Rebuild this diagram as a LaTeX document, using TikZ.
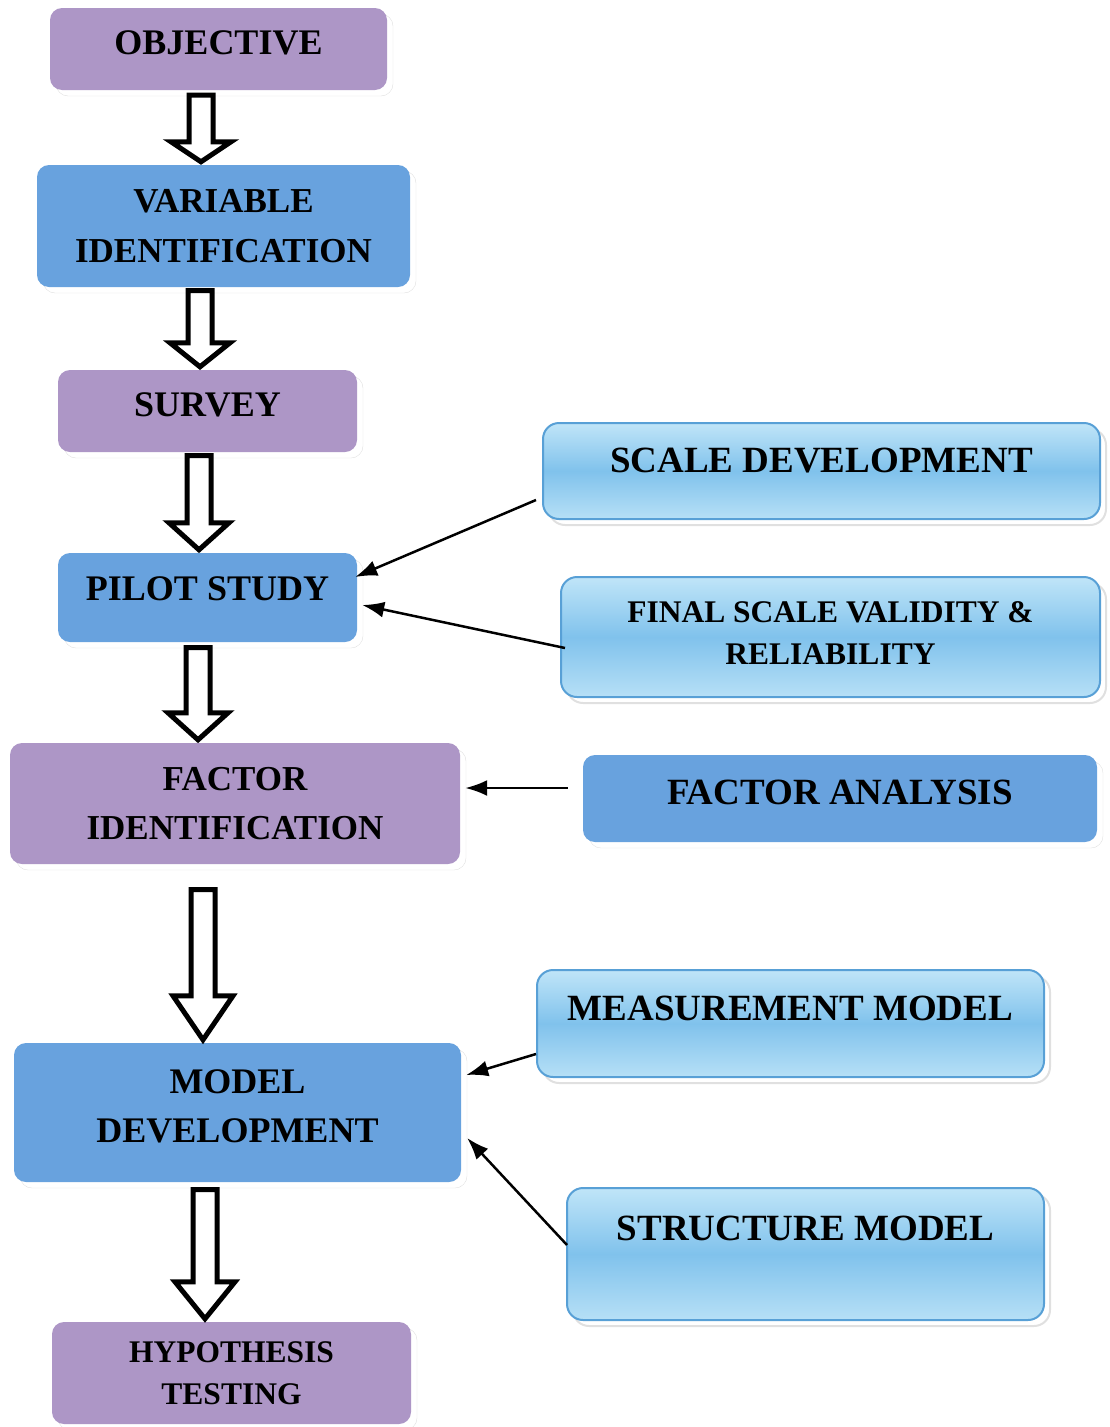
\documentclass[tikz,border=0pt]{standalone}
\usepackage{fontspec}
\setmainfont{Liberation Serif}
\usetikzlibrary{arrows.meta, calc, shadows, scopes}
\definecolor{lilac}{RGB}{173,150,198}
\definecolor{midblue}{RGB}{104,162,222}
\definecolor{skyhi}{RGB}{192,229,248}
\definecolor{skymid}{RGB}{128,194,236}
\definecolor{skyrim}{RGB}{88,160,214}
\tikzset{
  >= {Latex[length=22pt,width=16pt]},
  bx/.style={rectangle, rounded corners=12pt, align=center, inner sep=0pt,
    font=\bfseries\fontsize{36}{49}\selectfont,
    drop shadow={shadow xshift=6pt, shadow yshift=-6pt, fill=white, draw=black!12, opacity=1}},
  pu/.style={bx, fill=lilac},
  bl/.style={bx, fill=midblue},
  sk/.style={bx, rounded corners=16pt, draw=skyrim, line width=2pt,
    top color=skyhi, bottom color=skyhi!85!skymid, middle color=skymid,
    font=\bfseries\fontsize{37}{42}\selectfont},
  sz/.style 2 args={minimum width=#1, minimum height=#2},
  blk/.style n args={3}{draw=black, line width=5pt, fill=white,
    to path={let \p1=(\tikztostart.south), \p2=(\tikztotarget.north) in
      (#1pt-12pt,\y1-#2pt) -- (#1pt+12pt,\y1-#2pt) -- (#1pt+12pt,\y2+3pt+#3pt)
      -- (#1pt+30pt,\y2+3pt+#3pt) -- (#1pt,\y2+3pt) -- (#1pt-30pt,\y2+3pt+#3pt)
      -- (#1pt-12pt,\y2+3pt+#3pt) -- cycle}}
}

\begin{document}
\begin{tikzpicture}[x=1pt, y=-1pt, line/.style={draw, line width=2.5pt}]
  \useasboundingbox (0,0) rectangle (1110,1427);
  % main column
  \node[pu, sz={337}{82}, text depth=13pt] (obj) at (218.5,49) {OBJECTIVE};
  \node[bl, sz={373}{122}, font=\bfseries\fontsize{35}{50}\selectfont] (var) at (223.5,226) {VARIABLE\\IDENTIFICATION};
  \node[pu, sz={299}{82}, text depth=12pt] (sur) at (207.5,411) {SURVEY};
  \node[bl, sz={299}{89}, text depth=18pt] (pil) at (207.5,597.5) {PILOT STUDY};
  \node[pu, sz={450}{121}, font=\bfseries\fontsize{35}{49}\selectfont] (fid) at (235,803.5) {FACTOR\\IDENTIFICATION};
  \node[bl, sz={447}{139}, text depth=13pt] (mdv) at (237.5,1112.5) {MODEL\\DEVELOPMENT};
  \node[pu, sz={359}{102}, font=\bfseries\fontsize{31.5}{42}\selectfont] (hyp) at (231.5,1373) {HYPOTHESIS\\TESTING};
  % side boxes
  \node[sk, sz={557}{96}, text depth=22pt] (sd) at (821.5,471) {SCALE DEVELOPMENT};
  \node[sk, sz={539}{120}, font=\bfseries\fontsize{31.5}{42}\selectfont, text depth=8pt] (fs) at (830.5,637) {FINAL SCALE VALIDITY \&\\RELIABILITY};
  \node[bl, sz={514}{87}, font=\bfseries\fontsize{37}{42}\selectfont, text depth=12pt] (fa) at (840,798.5) {FACTOR ANALYSIS};
  \node[sk, sz={507}{107}, text depth=30pt] (mm) at (790.5,1023.5) {MEASUREMENT MODEL};
  \node[sk, sz={477}{132}, text depth=52pt] (sm) at (805.5,1254) {STRUCTURE MODEL};

  % hollow arrows down the column
  \draw[blk={201}{5}{20}] (obj) to (var);
  \draw[blk={200}{3.5}{24}] (var) to (sur);
  \draw[blk={199}{3.5}{27}] (sur) to (pil);
  \draw[blk={198}{5.5}{27}] (pil) to (fid);
  \draw[blk={203}{25.5}{44}] (fid) to (mdv);
  \draw[blk={205}{7.5}{37}] (mdv) to (hyp);

  {[->, line]
    \draw ([shift={(-6,29)}]sd.west) -- ([shift={(-2,-20.5)}]pil.east);
    \draw ([shift={(5,11)}]fs.west) -- ([shift={(5,7.5)}]pil.east);
    \draw ([shift={(-15,-10.5)}]fa.west) -- ([shift={(5,-15.5)}]fid.east);
    \draw ([shift={(0,30.5)}]mm.west) -- ([shift={(5,-37.5)}]mdv.east);
    \draw ([shift={(1,-9)}]sm.west) -- ([shift={(6,25.5)}]mdv.east);
  }
\end{tikzpicture}
\end{document}
